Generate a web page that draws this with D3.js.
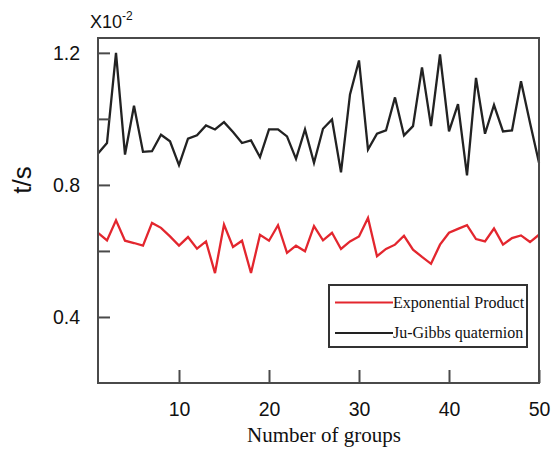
<!DOCTYPE html>
<html>
<head>
<meta charset="utf-8">
<script src="https://cdn.jsdelivr.net/npm/d3@7"></script>
<style>
  html, body { margin: 0; padding: 0; background: #fff; }
  svg { display: block; }
</style>
</head>
<body>
<svg id="chart" width="551" height="453"></svg>
<script>
// Group index 1..50
const groups = d3.range(1, 51);

// Time per group (units of 1e-2 s)
const exponentialProduct = [
  0.655, 0.632, 0.693, 0.631, 0.624, 0.616, 0.685, 0.670, 0.644, 0.616,
  0.642, 0.607, 0.629, 0.533, 0.680, 0.612, 0.631, 0.533, 0.649, 0.631,
  0.678, 0.594, 0.616, 0.599, 0.675, 0.632, 0.655, 0.606, 0.629, 0.644,
  0.700, 0.584, 0.606, 0.619, 0.646, 0.604, 0.582, 0.561, 0.619, 0.655,
  0.667, 0.678, 0.636, 0.629, 0.668, 0.619, 0.639, 0.647, 0.627, 0.649
];
const juGibbsQuaternion = [
  0.895, 0.927, 1.200, 0.892, 1.040, 0.900, 0.902, 0.952, 0.932, 0.860,
  0.940, 0.950, 0.980, 0.968, 0.990, 0.960, 0.927, 0.935, 0.884, 0.968,
  0.968, 0.947, 0.879, 0.968, 0.867, 0.970, 0.998, 0.838, 1.074, 1.177,
  0.907, 0.955, 0.965, 1.065, 0.950, 0.978, 1.156, 0.978, 1.195, 0.962,
  1.045, 0.829, 1.124, 0.955, 1.042, 0.962, 0.965, 1.114, 0.988, 0.867
];

const seriesNames = ["Exponential Product", "Ju-Gibbs quaternion"];
const seriesColors = ["#e3262e", "#222222"];

const xTicks = [10, 20, 30, 40, 50];
const yTicks = [0.4, 0.6, 0.8, 1.0, 1.2];
const yTickLabels = [0.4, 0.8, 1.2];

const svg = d3.select("#chart");
const plot = { left: 98, right: 539, top: 38, bottom: 383 };

const x = d3.scaleLinear().domain([1, 50]).range([plot.left, plot.right]);
const y = d3.scaleLinear().domain([0.2, 1.245]).range([plot.bottom, plot.top]);

const sansFont = "'Liberation Sans', Arial, sans-serif";
const serifFont = "'Liberation Serif', 'Times New Roman', serif";
const frameColor = "#4a4a4a";

// Series lines
const line = d3.line()
  .x((d, i) => x(groups[i]))
  .y(d => y(d));

const seriesData = [exponentialProduct, juGibbsQuaternion];
svg.append("g")
  .selectAll("path")
  .data(seriesData)
  .join("path")
  .attr("d", d => line(d))
  .attr("fill", "none")
  .attr("stroke", (d, i) => seriesColors[i])
  .attr("stroke-width", 2.3)
  .attr("stroke-linejoin", "miter");

// Y axis: inward ticks every 0.2, labels at 0.4 / 0.8 / 1.2
const yAxis = d3.axisLeft(y)
  .tickValues(yTicks)
  .tickSize(-12)
  .tickPadding(18)
  .tickFormat(d => yTickLabels.some(v => Math.abs(v - d) < 1e-9) ? d3.format(".1f")(d) : "");
const gy = svg.append("g")
  .attr("transform", `translate(${plot.left},0)`)
  .call(yAxis);
gy.select(".domain").remove();
gy.selectAll(".tick line").attr("stroke", frameColor).attr("stroke-width", 2);
gy.selectAll(".tick text")
  .attr("font-family", sansFont)
  .attr("font-size", 19.5)
  .attr("fill", "#111");

// X axis: inward ticks, labels below
const xAxis = d3.axisBottom(x)
  .tickValues(xTicks)
  .tickSize(-13)
  .tickPadding(19)
  .tickFormat(d3.format("d"));
const gx = svg.append("g")
  .attr("transform", `translate(0,${plot.bottom})`)
  .call(xAxis);
gx.select(".domain").remove();
gx.selectAll(".tick line").attr("stroke", frameColor).attr("stroke-width", 2);
gx.selectAll(".tick text")
  .attr("font-family", sansFont)
  .attr("font-size", 19.5)
  .attr("fill", "#111");

// Plot frame
svg.append("rect")
  .attr("x", plot.left)
  .attr("y", plot.top)
  .attr("width", plot.right - plot.left)
  .attr("height", plot.bottom - plot.top)
  .attr("fill", "none")
  .attr("stroke", frameColor)
  .attr("stroke-width", 2);

// Scale multiplier above the y axis
const mult = svg.append("text")
  .attr("x", 90)
  .attr("y", 28)
  .attr("font-family", sansFont)
  .attr("font-size", 18)
  .attr("fill", "#111");
mult.append("tspan").text("X10");
mult.append("tspan").attr("dy", -8).attr("font-size", 12).text("-2");

// Axis titles
svg.append("text")
  .attr("transform", "translate(31,180) rotate(-90)")
  .attr("text-anchor", "middle")
  .attr("font-family", sansFont)
  .attr("font-size", 26)
  .attr("fill", "#111")
  .text("t/s");

svg.append("text")
  .attr("x", 324)
  .attr("y", 442)
  .attr("text-anchor", "middle")
  .attr("font-family", serifFont)
  .attr("font-size", 21)
  .attr("fill", "#111")
  .text("Number of groups");

// Legend
const legend = svg.append("g");
legend.append("rect")
  .attr("x", 329)
  .attr("y", 285)
  .attr("width", 198)
  .attr("height", 62)
  .attr("fill", "#fff")
  .attr("stroke", "#333")
  .attr("stroke-width", 2);

const legendRows = [302.5, 333];
seriesNames.forEach((name, i) => {
  legend.append("line")
    .attr("x1", 335).attr("x2", 393)
    .attr("y1", legendRows[i]).attr("y2", legendRows[i])
    .attr("stroke", seriesColors[i])
    .attr("stroke-width", 2);
  legend.append("text")
    .attr("x", 393)
    .attr("y", legendRows[i] + 5)
    .attr("font-family", serifFont)
    .attr("font-size", 16)
    .attr("fill", "#111")
    .text(name);
});
</script>
</body>
</html>
